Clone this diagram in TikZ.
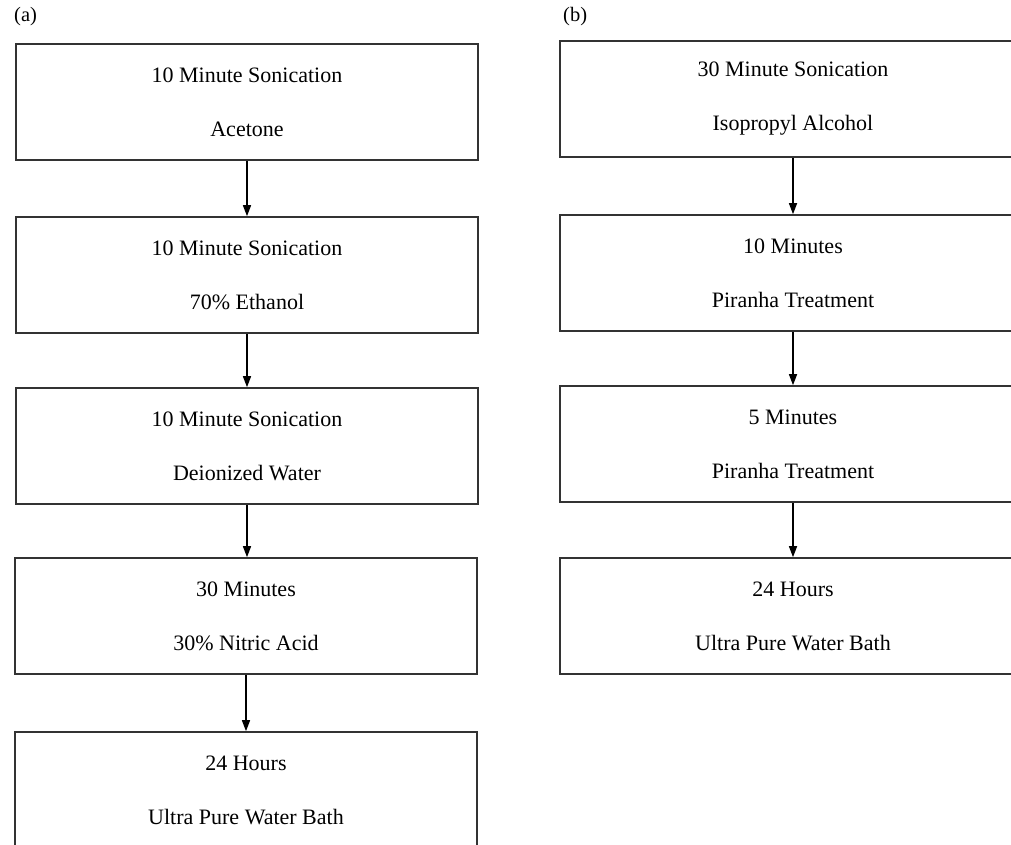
\documentclass[tikz,border=0pt]{standalone}
\usepackage{fontspec}
\setmainfont{Liberation Serif}
\usetikzlibrary{arrows.meta}
\begin{document}
\begin{tikzpicture}[x=1pt,y=-1pt,
  stepbox/.style={draw=black!80, line width=1.6pt, rectangle, minimum height=116pt, inner sep=0pt, align=center, font=\fontsize{22}{54}\selectfont},
  leftbox/.style={stepbox, minimum width=462pt},
  rightbox/.style={stepbox, minimum width=466pt},
  flow/.style={line width=1.4pt, draw=black, -{Triangle[length=11pt,width=8pt]}},
  panel/.style={font=\fontsize{20.5}{24}\selectfont, anchor=west, inner sep=0pt}]
\useasboundingbox (0,0) rectangle (1011,845);
\node[panel] (la) at (14,17) {(a)};
\node[panel] (lb) at (563,17) {(b)};
\node[leftbox] (a1) at (247,102) {10 Minute Sonication\\Acetone};
\node[leftbox] (a2) at (247,275) {10 Minute Sonication\\70\% Ethanol};
\node[leftbox] (a3) at (247,446) {10 Minute Sonication\\Deionized Water};
\node[leftbox] (a4) at (246,616) {30 Minutes\\30\% Nitric Acid};
\node[leftbox] (a5) at (246,790) {24 Hours\\Ultra Pure Water Bath};
\node[rightbox] (b1) at (793,99) {30 Minute Sonication\\Isopropyl Alcohol};
\node[rightbox] (b2) at (793,273) {10 Minutes\\Piranha Treatment};
\node[rightbox] (b3) at (793,444) {5 Minutes\\Piranha Treatment};
\node[rightbox] (b4) at (793,616) {24 Hours\\Ultra Pure Water Bath};
\draw[flow] (a1.south) -- (a1.south |- a2.north);
\draw[flow] (a2.south) -- (a2.south |- a3.north);
\draw[flow] (a3.south) -- (a3.south |- a4.north);
\draw[flow] (a4.south) -- (a4.south |- a5.north);
\draw[flow] (b1.south) -- (b1.south |- b2.north);
\draw[flow] (b2.south) -- (b2.south |- b3.north);
\draw[flow] (b3.south) -- (b3.south |- b4.north);
\end{tikzpicture}
\end{document}
